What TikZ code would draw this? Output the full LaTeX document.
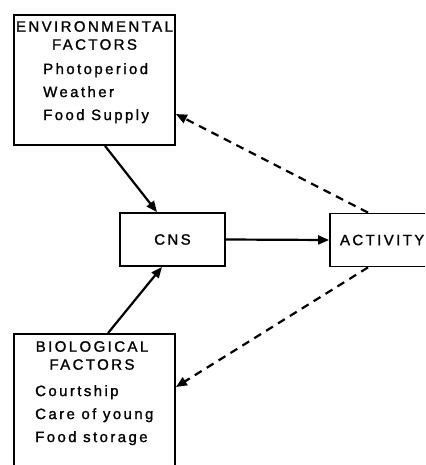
\documentclass[tikz,border=0pt]{standalone}
\usepackage{fontspec}
\setmainfont{Liberation Sans}
\newfontfamily\spacedfont[LetterSpace=16, FakeBold=1.3]{Liberation Sans}
\usetikzlibrary{arrows.meta, positioning}
\tikzset{
    factorbox/.style = {
        draw, rectangle, minimum width=161pt, line width=1.8pt, inner sep=0pt
    },
    smallbox/.style = {
        draw, rectangle, minimum height=53pt, line width=1.8pt, inner sep=0pt,
        font=\fontsize{15}{18}\spacedfont
    },
    heading/.style = {
        align=center, inner sep=0pt, anchor=north, font=\fontsize{15}{18}\spacedfont
    },
    items/.style = {
        align=left, inner sep=0pt, anchor=north west, font=\fontsize{15}{23}\spacedfont
    },
}

\begin{document}
\begin{tikzpicture}[x=1pt, y=-1pt]
        \clip (0,0) rectangle (425,465);
        % Place the blocks
        \node[factorbox, minimum height=130pt] (env) at (94.5,80) {};
        \node[heading] (envtitle) at (94.5,21) {ENVIRONMENTAL\\FACTORS};
        \node[items] (envlist) at (43,63) {Photoperiod\\Weather\\Food Supply};

        \node[factorbox, minimum height=146pt] (bio) at (94.5,407) {};
        \node[heading] (biotitle) at (92,341) {BIOLOGICAL\\FACTORS};
        \node[items] (biolist) at (35,385) {Courtship\\Care of young\\Food storage};

        \node[smallbox, minimum width=105pt] (cns) at (172.5,239.5) {CNS};
        \node[smallbox, minimum width=110pt, align=left, text width=110pt] (act) at (385,240) {\hspace*{10pt}ACTIVITY};

        % Draw connections
        \begin{scope}[line width=2.2pt, >={Triangle[length=11pt, width=9pt]}]
            \draw[->] ([xshift=10.5pt]env.south) -- ([xshift=-15.5pt]cns.north);
            \draw[->] ([xshift=13.5pt]bio.north) -- ([xshift=-10.5pt]cns.south);
            \draw[->] (cns.east) -- (act.west);
            \draw[->, dash pattern=on 8pt off 6pt] ([xshift=-17pt]act.north) -- ([yshift=-34pt]env.east);
            \draw[->, dash pattern=on 8pt off 6pt] ([xshift=-17pt]act.south) -- ([yshift=20pt]bio.east);
        \end{scope}
\end{tikzpicture}
\end{document}
